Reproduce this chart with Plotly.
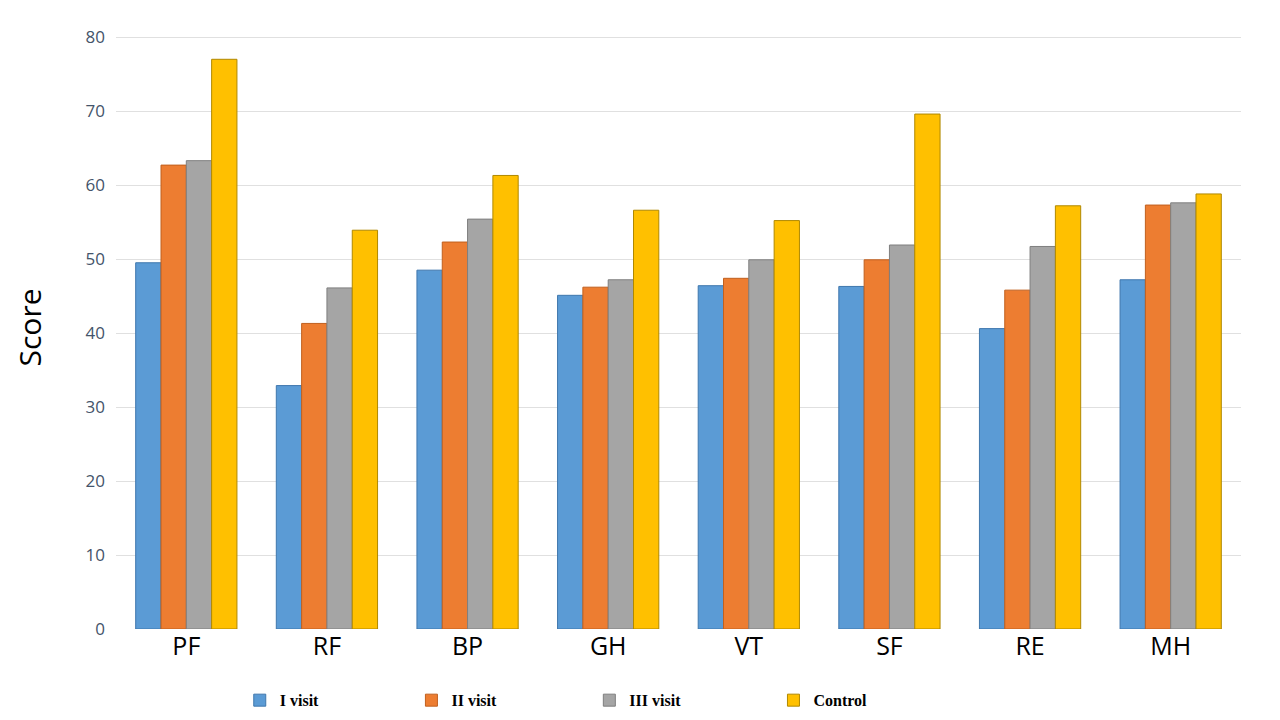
import plotly.graph_objects as go

categories = ["PF", "RF", "BP", "GH", "VT", "SF", "RE", "MH"]
series_names = ["I visit", "II visit", "III visit", "Control"]
visit1 = [49.5, 32.9, 48.5, 45.1, 46.4, 46.3, 40.6, 47.2]
visit2 = [62.7, 41.3, 52.3, 46.2, 47.4, 49.9, 45.8, 57.3]
visit3 = [63.3, 46.1, 55.4, 47.2, 49.9, 51.9, 51.7, 57.6]
control = [77.0, 53.9, 61.3, 56.6, 55.2, 69.6, 57.2, 58.8]
colors = ["#5b9bd5", "#ed7d31", "#a5a5a5", "#ffc000"]
edge = ["#3f77ad", "#c0601f", "#7f7f7f", "#b08800"]

fig = go.Figure()
for name, vals, c, e in zip(series_names, [visit1, visit2, visit3, control], colors, edge):
    fig.add_trace(go.Bar(x=categories, y=vals, name="<b>" + name + "</b>" + "&nbsp;" * 22,
                         marker=dict(color=c, line=dict(color=e, width=1))))

fig.update_layout(
    width=1280, height=720, barmode="group", bargap=0.28, bargroupgap=0,
    plot_bgcolor="white", paper_bgcolor="white",
    margin=dict(l=108, r=47, t=18, b=99, autoexpand=False),
    yaxis=dict(range=[0, 81.5], dtick=10, gridcolor="#e0e0e0", zeroline=False,
               tickfont=dict(size=17, color="#44546a", family="Open Sans"), ticklabelstandoff=10,
               title=dict(text="Score", font=dict(size=30, color="black", family="Open Sans"), standoff=35)),
    xaxis=dict(tickfont=dict(size=25, color="black", family="Open Sans"), showline=False),
    legend=dict(orientation="h", x=0.43, xanchor="center", y=-0.09, yanchor="top",
                font=dict(size=16, family="Liberation Serif", color="black"),
                itemwidth=30),
    font=dict(family="Open Sans"),
)
fig.write_html("out.html")
